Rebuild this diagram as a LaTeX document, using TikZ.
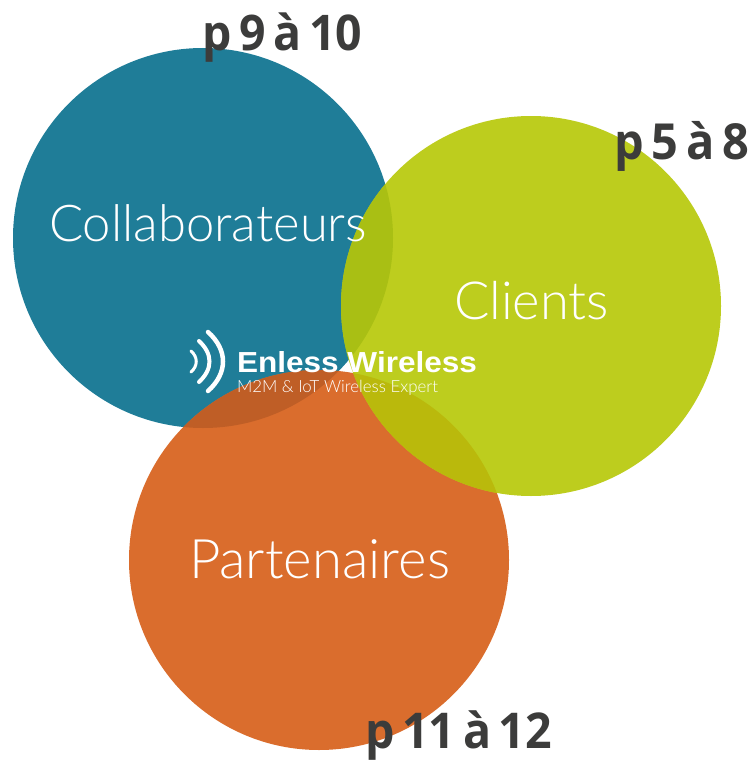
\documentclass[tikz,border=0pt]{standalone}
\usepackage{fontspec}
\usepackage{graphicx}
\setmainfont{Open Sans}
\newfontfamily\thinf{Lato Light}
\newfontfamily\boldf{Open Sans Bold}
\newfontfamily\logof{Liberation Sans Bold}
\newcommand{\pagetext}[2]{\scalebox{1}[1.06]{\resizebox{#1}{!}{\boldf #2}}}
\definecolor{cblue}{HTML}{1F7D98}
\definecolor{cgreen}{HTML}{BDCD1E}
\definecolor{corange}{HTML}{DA6D2D}
\definecolor{cbg}{HTML}{A9BF14}
\definecolor{cbo}{HTML}{BF5E26}
\definecolor{cgo}{HTML}{BAB90C}
\definecolor{cpage}{HTML}{3C3C3B}
\tikzset{
  disc/.style={circle,minimum size=380pt,inner sep=0pt,outer sep=0pt},
  title/.style={anchor=base west,inner sep=0pt,outer sep=0pt,text=white},
  pagelab/.style={anchor=base west,inner sep=0pt,outer sep=0pt,text=cpage},
  wave/.style={draw=white,line cap=round,fill=none}
}
\begin{document}
\begin{tikzpicture}[x=1pt,y=-1pt]
\useasboundingbox (0,0) rectangle (754,760);
\node[disc,fill=cblue] (blue) at (203,238) {};
\node[disc,fill=corange] (orange) at (319,560) {};
\node[disc,fill=cgreen] (green) at (531,306) {};
\begin{scope}
  \clip (203,238) circle[radius=190];
  \fill[cbg] (531,306) circle[radius=190];
  \fill[cbo] (319,560) circle[radius=190];
\end{scope}
\begin{scope}
  \clip (531,306) circle[radius=190];
  \fill[cgo] (319,560) circle[radius=190];
\end{scope}
\node[title] (tcoll) at (49,241) {\resizebox{318pt}{!}{\thinf Collaborateurs}};
\node[title] (tcli) at (454,319) {\resizebox{155pt}{!}{\thinf Clients}};
\node[title] (tpart) at (189,578) {\resizebox{261pt}{!}{\thinf Partenaires}};
\node[pagelab] (p1) at (202,50.5) {\pagetext{160pt}{p\,9\,à\,10}};
\node[pagelab] (p2) at (614,159) {\pagetext{135pt}{p\,5\,à\,8}};
\node[pagelab] (p3) at (365,748) {\pagetext{187pt}{p\,11\,à\,12}};
\draw[wave,line width=4.5pt] (208,332) .. controls (228,350) and (228,373) .. (208,391);
\draw[wave,line width=4pt] (199,341) .. controls (213,354) and (213,369) .. (199,382);
\draw[wave,line width=3pt] (191,351) .. controls (198,357) and (198,366) .. (191,372);
\node[title] (logo) at (237,372) {\resizebox{240pt}{21pt}{\logof Enless Wireless}};
\node[title] (slogan) at (237,392) {\resizebox{201pt}{!}{\thinf M2M \& IoT Wireless Expert}};
\end{tikzpicture}
\end{document}
